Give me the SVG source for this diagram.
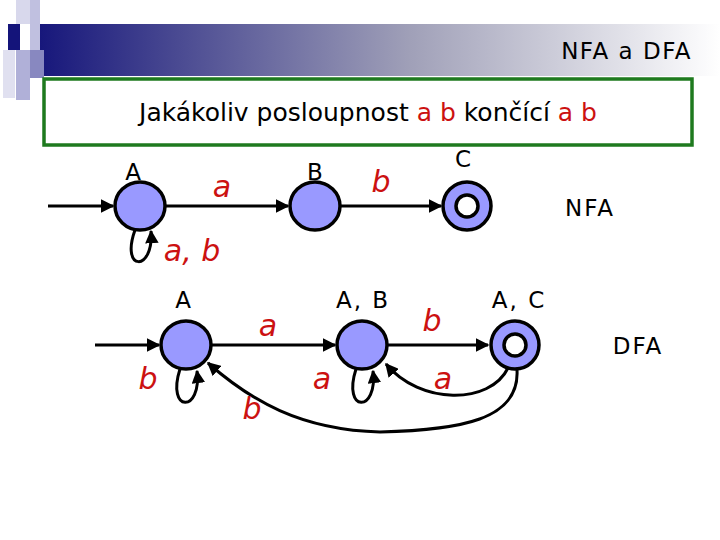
<svg xmlns="http://www.w3.org/2000/svg" width="720" height="540" viewBox="0 0 720 540">
<defs>
<linearGradient id="g" x1="0" x2="1" y1="0" y2="0"><stop offset="0" stop-color="#14147a"/><stop offset="0.55" stop-color="#a0a0b8"/><stop offset="1" stop-color="#ffffff"/></linearGradient>
<marker id="ar" viewBox="0 0 10 10" refX="9" refY="5" markerWidth="4.5" markerHeight="4.5" orient="auto"><path d="M0 0L10 5L0 10z" fill="#000"/></marker>
</defs>
<style>
.st{fill:#9999ff;stroke:#000;stroke-width:3.5}
.in{fill:#fff;stroke:#000;stroke-width:3.5}
.e{fill:none;stroke:#000;stroke-width:3;marker-end:url(#ar)}
.n{font-family:"DejaVu Sans",sans-serif;font-size:23px;fill:#000;letter-spacing:2px}
.l{font-family:"DejaVu Sans",sans-serif;font-size:30px;font-style:italic;fill:#cc1111}
</style>
<rect width="720" height="540" fill="#fff"/>
<rect x="32" y="24" width="688" height="52" fill="url(#g)"/>
<rect x="8" y="24" width="12" height="26" fill="#14147a"/>
<rect x="16" y="0" width="14" height="24" fill="#d8d8ec"/>
<rect x="30" y="0" width="10" height="50" fill="#c0c0e0"/>
<rect x="16" y="50" width="14" height="50" fill="#b0b0d8"/>
<rect x="3" y="50" width="12" height="48" fill="#e0e0f0"/>
<rect x="30" y="50" width="14" height="28" fill="#8888c0"/>
<text x="692" y="59" text-anchor="end" font-family="DejaVu Sans,sans-serif" font-size="23" letter-spacing="1.5" fill="#000">NFA  a  DFA</text>
<rect x="44" y="79" width="648" height="66" fill="#fff" stroke="#1e7a1e" stroke-width="3.5"/>
<text x="368" y="121" text-anchor="middle" font-family="DejaVu Sans,sans-serif" font-size="25" fill="#000">Jakákoliv posloupnost <tspan fill="#cc1111">a b</tspan> končící <tspan fill="#cc1111">a b</tspan></text>
<g id="connectors">
<line x1="48" y1="206" x2="113" y2="206" class="e"/>
<line x1="166" y1="206" x2="288" y2="206" class="e"/>
<line x1="341" y1="206" x2="441" y2="206" class="e"/>
<path d="M135 230 C120 272 154 272 151 231" class="e"/>
<line x1="95" y1="345" x2="159" y2="345" class="e"/>
<line x1="212" y1="345" x2="335" y2="345" class="e"/>
<line x1="388" y1="345" x2="488" y2="345" class="e"/>
<path d="M180 369 C166 413 202 413 197 371" class="e"/>
<path d="M356 369 C342 413 378 413 373 371" class="e"/>
<path d="M508 368 C490 405 420 405 386 364" class="e"/>
<path d="M517 370 C520 420 460 430 380 432 C300 430 250 400 208 363" class="e"/>
</g>
<g id="nA"><ellipse cx="140" cy="206" rx="25" ry="24" class="st"/><text x="134" y="180" class="n" text-anchor="middle">A</text></g>
<g id="nB"><ellipse cx="315" cy="206" rx="25" ry="24" class="st"/><text x="316" y="180" class="n" text-anchor="middle">B</text></g>
<g id="nC"><circle cx="467" cy="206" r="24" class="st"/><circle cx="467" cy="206" r="11" class="in"/><text x="464" y="167" class="n" text-anchor="middle">C</text></g>
<text x="222" y="197" class="l" text-anchor="middle">a</text>
<text x="381" y="192" class="l" text-anchor="middle">b</text>
<text x="192" y="261" class="l" text-anchor="middle">a, b</text>
<text x="590" y="216" class="n" text-anchor="middle">NFA</text>
<g id="dA"><ellipse cx="186" cy="345" rx="25" ry="24" class="st"/><text x="184" y="308" class="n" text-anchor="middle">A</text></g>
<g id="dAB"><ellipse cx="362" cy="345" rx="25" ry="24" class="st"/><text x="363" y="308" class="n" text-anchor="middle">A, B</text></g>
<g id="dAC"><circle cx="515" cy="345" r="24" class="st"/><circle cx="515" cy="345" r="11" class="in"/><text x="519" y="308" class="n" text-anchor="middle">A, C</text></g>
<text x="268" y="336" class="l" text-anchor="middle">a</text>
<text x="432" y="331" class="l" text-anchor="middle">b</text>
<text x="148" y="389" class="l" text-anchor="middle">b</text>
<text x="322" y="389" class="l" text-anchor="middle">a</text>
<text x="443" y="389" class="l" text-anchor="middle">a</text>
<text x="252" y="419" class="l" text-anchor="middle">b</text>
<text x="638" y="354" class="n" text-anchor="middle">DFA</text>
</svg>
